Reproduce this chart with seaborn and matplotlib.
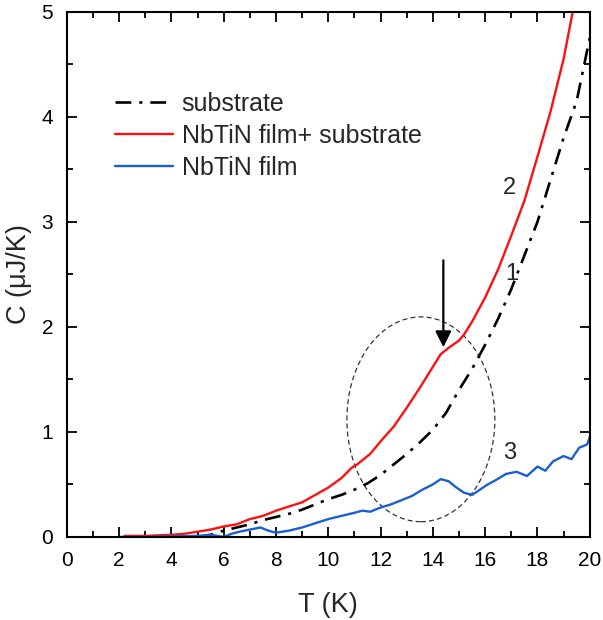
import matplotlib
matplotlib.use("Agg")
import matplotlib.pyplot as plt
import seaborn as sns
import pandas as pd
from matplotlib.patches import Ellipse
from matplotlib.ticker import MultipleLocator

# ---- data ----
T_red = [2.2, 2.5, 3.0, 3.5, 4.0, 4.5, 5.0, 5.5, 6.0, 6.5, 7.0, 7.5, 8.0, 8.5, 9.0, 9.5,
         10.0, 10.5, 10.9, 11.1, 11.3, 11.6, 12.0, 12.5, 13.0, 13.5, 14.0, 14.3, 14.6, 15.0,
         15.2, 15.5, 16.0, 16.5, 17.0, 17.5, 18.0, 18.5, 19.0, 19.35]
C_red = [0.01, 0.01, 0.01, 0.015, 0.02, 0.03, 0.05, 0.07, 0.10, 0.12, 0.17, 0.20, 0.25,
         0.29, 0.33, 0.40, 0.47, 0.56, 0.66, 0.69, 0.73, 0.79, 0.91, 1.05, 1.23, 1.42,
         1.62, 1.74, 1.80, 1.87, 1.93, 2.05, 2.28, 2.55, 2.87, 3.20, 3.62, 4.05, 4.55, 5.00]

T_sub = [5.0, 5.5, 6.0, 6.5, 7.0, 7.5, 8.0, 8.5, 9.0, 9.5, 10.0, 10.5, 11.0, 11.5, 12.0,
         12.5, 13.0, 13.5, 14.0, 14.5, 15.0, 15.5, 16.0, 16.5, 17.0, 17.5, 18.0, 18.5,
         19.0, 19.5, 20.0]
C_sub = [0.0, 0.02, 0.06, 0.09, 0.12, 0.16, 0.19, 0.22, 0.26, 0.31, 0.36, 0.40, 0.45,
         0.51, 0.59, 0.69, 0.79, 0.90, 1.02, 1.18, 1.40, 1.60, 1.83, 2.08, 2.36, 2.68,
         3.00, 3.40, 3.80, 4.15, 4.75]

T_film = [2.0, 3.0, 4.0, 5.0, 5.5, 6.0, 6.3, 6.6, 7.0, 7.4, 7.7, 8.0, 8.5, 9.0, 9.5, 10.0,
          10.5, 11.0, 11.3, 11.6, 12.0, 12.4, 12.8, 13.2, 13.6, 14.0, 14.3, 14.6, 14.9,
          15.2, 15.5, 15.8, 16.1, 16.4, 16.8, 17.2, 17.6, 18.0, 18.3, 18.6, 19.0, 19.3,
          19.6, 19.9, 20.0]
C_film = [0.0, 0.0, 0.005, 0.01, 0.02, 0.0, 0.03, 0.05, 0.07, 0.09, 0.06, 0.04, 0.06,
          0.09, 0.13, 0.17, 0.20, 0.23, 0.25, 0.24, 0.28, 0.31, 0.35, 0.39, 0.45, 0.50,
          0.55, 0.53, 0.47, 0.42, 0.40, 0.45, 0.50, 0.54, 0.60, 0.62, 0.58, 0.67, 0.63,
          0.72, 0.77, 0.74, 0.85, 0.88, 0.95]

labels = ["substrate", "NbTiN film+ substrate", "NbTiN film"]
x_ticks = [0, 2, 4, 6, 8, 10, 12, 14, 16, 18, 20]
y_ticks = [0, 1, 2, 3, 4, 5]

# ---- style ----
sns.set_style("ticks")
plt.rcParams["font.family"] = ["Liberation Sans", "DejaVu Sans"]

fig = plt.figure(figsize=(6.03, 6.2), dpi=100)
ax = fig.add_axes([0.111, 0.134, 0.867, 0.847])

df_sub = pd.DataFrame({"T": T_sub, "C": C_sub})
df_red = pd.DataFrame({"T": T_red, "C": C_red})
df_film = pd.DataFrame({"T": T_film, "C": C_film})

sns.lineplot(data=df_sub, x="T", y="C", ax=ax, color="black", lw=1.9,
             linestyle=(0, (6, 3, 1.2, 3)), label=labels[0], sort=False)
sns.lineplot(data=df_red, x="T", y="C", ax=ax, color="#ff1010", lw=1.7,
             label=labels[1], sort=False)
sns.lineplot(data=df_film, x="T", y="C", ax=ax, color="#1a5fd0", lw=1.7,
             label=labels[2], sort=False)

# ellipse marking region
ell = Ellipse((13.54, 1.12), width=5.66, height=1.95, fill=False, ls=(0, (4, 2.5)),
              lw=0.9, edgecolor="#333333")
ax.add_patch(ell)

# arrow
ax.annotate("", xy=(14.4, 1.78), xytext=(14.4, 2.66),
            arrowprops=dict(arrowstyle="-|>", color="black", lw=1.6, mutation_scale=24))

# curve numbers
ax.text(17.0, 2.50, "1", fontsize=17, ha="center", va="center")
ax.text(16.94, 3.32, "2", fontsize=17, ha="center", va="center")
ax.text(16.94, 0.80, "3", fontsize=17, ha="center", va="center")

ax.set_xlim(0, 20)
ax.set_ylim(0, 5)
ax.set_xticks(x_ticks)
ax.set_yticks(y_ticks)
ax.xaxis.set_minor_locator(MultipleLocator(1))
ax.yaxis.set_minor_locator(MultipleLocator(0.5))
ax.tick_params(which="both", direction="in", top=True, right=True, width=1.3,
               labelsize=15, colors="black")
ax.tick_params(which="major", length=7)
ax.tick_params(axis="x", which="major", pad=10)
ax.tick_params(axis="y", which="major", pad=10)
ax.tick_params(which="minor", length=4)
for s in ax.spines.values():
    s.set_linewidth(1.5)
    s.set_color("black")

ax.set_xlabel("T (K)", fontsize=19.5, labelpad=16)
ax.set_ylabel("C (\u03bcJ/K)", fontsize=19.5, labelpad=7)

leg = ax.legend(loc="upper left", bbox_to_anchor=(0.092, 0.847), frameon=False,
                fontsize=18, handlelength=2.3, handletextpad=0.36, labelspacing=0.32,
                borderaxespad=0, borderpad=0)

fig.savefig("out.png", dpi=100)
